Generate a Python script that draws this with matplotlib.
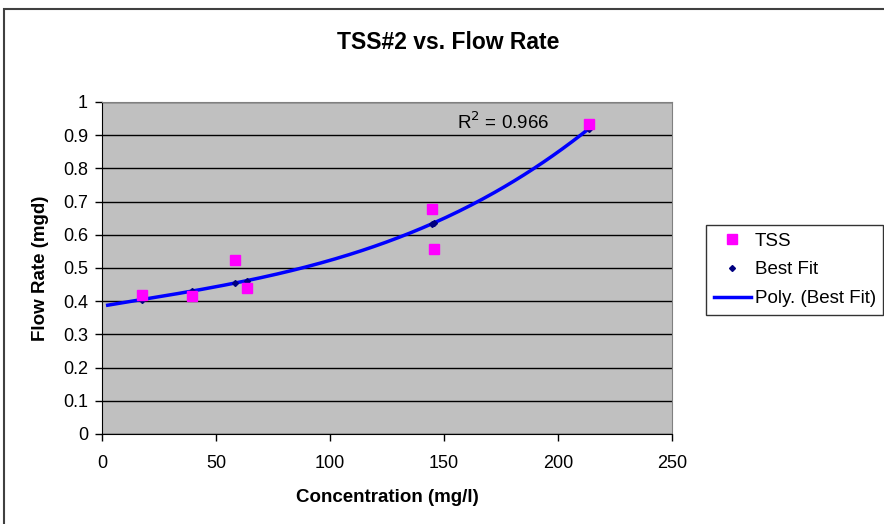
import numpy as np
import matplotlib
matplotlib.use("Agg")
import matplotlib.pyplot as plt
from matplotlib.patches import Rectangle

plt.rcParams['font.family'] = ['Liberation Sans', 'DejaVu Sans']

# measured concentration vs flow rate
conc = [17.5, 39.5, 58.3, 63.6, 144.7, 145.6, 213.6]
tss_flow = [0.419, 0.416, 0.524, 0.440, 0.678, 0.557, 0.934]
# fitted flow rates at the same concentrations
best_fit = [0.405, 0.430, 0.455, 0.462, 0.633, 0.636, 0.920]
r_squared = 0.966

fig = plt.figure(figsize=(8.84, 5.24), dpi=100)
fig.patch.set_facecolor('white')

# outer chart frame
fig.add_artist(Rectangle((4 / 884, -0.1), 1.2, 1 - 9 / 524 + 0.1,
                         transform=fig.transFigure, fill=False,
                         edgecolor='#404040', linewidth=1.5))

ax = fig.add_axes([102 / 884, 90 / 524, 570 / 884, 332 / 524])
ax.set_facecolor('#C0C0C0')
ax.set_xlim(0, 250)
ax.set_ylim(0, 1)
ax.set_xticks(np.arange(0, 251, 50))
ax.set_yticks(np.round(np.arange(0, 1.01, 0.1), 1))
ax.set_yticklabels(['0', '0.1', '0.2', '0.3', '0.4', '0.5', '0.6', '0.7', '0.8', '0.9', '1'])
ax.yaxis.grid(True, color='black', linewidth=1)
ax.set_axisbelow(True)
for side in ['top', 'right']:
    ax.spines[side].set_color('#808080')
for side in ['left', 'bottom']:
    ax.spines[side].set_color('black')
ax.tick_params(axis='both', direction='out', length=5, labelsize=13, width=1)
ax.tick_params(axis='x', pad=10)
ax.tick_params(axis='y', pad=5)

# polynomial trendline through the fitted values
coef = np.polyfit(conc, best_fit, 3)
xs = np.linspace(2.5, conc[-1], 200)
ax.plot(xs, np.polyval(coef, xs), color='#0000FF', linewidth=2.5,
        label='Poly. (Best Fit)', zorder=3)
ax.plot(conc, best_fit, linestyle='none', marker='D', markersize=3,
        color='#000080', label='Best Fit', zorder=4)
ax.plot(conc, tss_flow, linestyle='none', marker='s', markersize=7,
        color='#FF00FF', label='TSS', zorder=5)

ax.text(155.7, 0.94, 'R$^2$ = %.3f' % r_squared, fontsize=13.5, va='center')

ax.set_xlabel('Concentration (mg/l)', fontsize=13.5, fontweight='bold', labelpad=12)
ax.set_ylabel('Flow Rate (mgd)', fontsize=13.5, fontweight='bold', labelpad=10)
fig.text(0.507, 1 - 43 / 524, 'TSS#2 vs. Flow Rate', fontsize=16.5, fontweight='bold',
         ha='center', va='center')

handles, labels = ax.get_legend_handles_labels()
order = [2, 1, 0]
leg = fig.legend([handles[i] for i in order], [labels[i] for i in order],
                 loc='upper left', bbox_to_anchor=(706 / 884, 1 - 225 / 524),
                 borderaxespad=0, fontsize=13.5, frameon=True, fancybox=False,
                 borderpad=0.4, handlelength=2.0, handletextpad=0.2,
                 labelspacing=0.62)
leg.get_frame().set_edgecolor('black')
leg.get_frame().set_linewidth(1)

fig.savefig('out.png', dpi=100)
